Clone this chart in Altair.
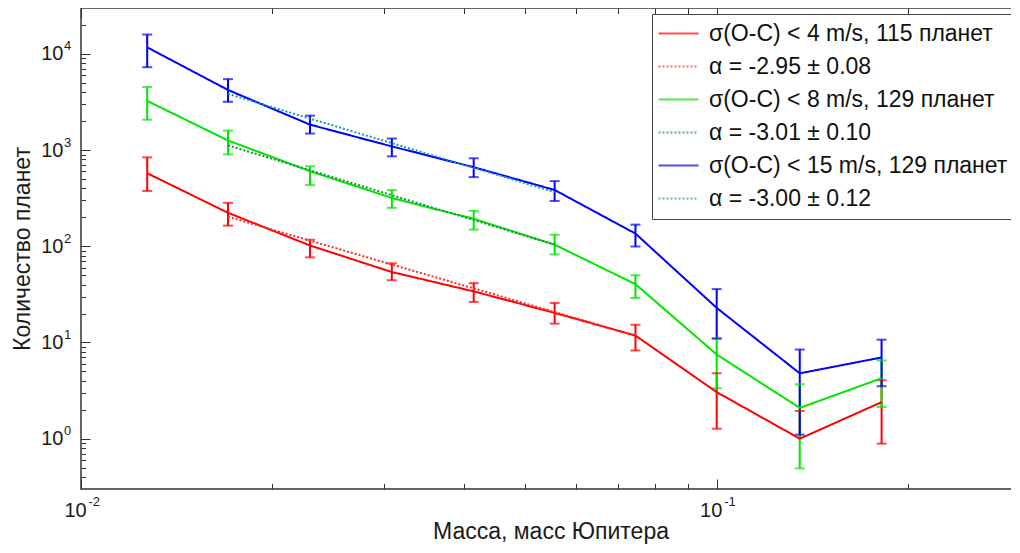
import altair as alt
import pandas as pd

# ---------------- data ----------------
mass = [0.01271, 0.01703, 0.02292, 0.03083, 0.04147, 0.05560, 0.07451, 0.1000, 0.1351, 0.1817]

red_n = [575, 223, 102, 54, 34, 20.3, 11.8, 3.05, 1.0, 2.4]
red_hi = [841, 283, 117, 66.5, 41.4, 25.8, 15.3, 4.79, 1.94, 4.05]
red_lo = [376, 164, 76.7, 44.4, 26.4, 15.7, 8.26, 1.27, None, 0.888]

green_n = [3250, 1259, 604, 318, 193, 104, 40.4, 7.5, 2.09, 4.25]
green_hi = [4530, 1596, 679, 384, 234, 132, 50.0, 11.0, 3.68, 6.51]
green_lo = [2070, 903, 433, 251, 149, 82.4, 29.0, 3.35, 0.491, 2.14]

blue_n = [11700, 4220, 1840, 1092, 664, 385, 135.5, 22.9, 4.78, 6.99]
blue_hi = [15900, 5470, 2280, 1320, 822, 476, 168, 35.9, 8.45, 10.7]
blue_lo = [7280, 3175, 1486, 861, 524, 296, 99.5, 11.0, 1.10, 3.51]

fit_red_x = [0.01703, 0.07451]
fit_red_y = [203, 11.8]
fit_green_x = [0.01703, 0.0556]
fit_green_y = [1120, 104]
fit_blue_x = [0.01703, 0.0556]
fit_blue_y = [3840, 366]

labels = [
    "σ(O-C) < 4 m/s, 115 планет",
    "α = -2.95 ± 0.08",
    "σ(O-C) < 8 m/s, 129 планет",
    "α = -3.01 ± 0.10",
    "σ(O-C) < 15 m/s, 129 планет",
    "α = -3.00 ± 0.12",
]

x_major = [0.01, 0.1]
x_minor = [0.02, 0.03, 0.04, 0.05, 0.06, 0.07, 0.08, 0.09, 0.2]
y_major = [1, 10, 100, 1000, 10000]
y_minor = [0.4, 0.5, 0.6, 0.7, 0.8, 0.9,
           2, 3, 4, 5, 6, 7, 8, 9,
           20, 30, 40, 50, 60, 70, 80, 90,
           200, 300, 400, 500, 600, 700, 800, 900,
           2000, 3000, 4000, 5000, 6000, 7000, 8000, 9000,
           20000]

x_title = "Масса, масс Юпитера"
y_title = "Количество планет"

# ---------------- styles ----------------
colors = ["#ff0000", "#ff2a2a", "#00e600", "#1f8f3f", "#0000ff", "#1a9aaa"]
dashes = [[1, 0], [2, 2], [1, 0], [2, 2], [1, 0], [2, 2]]
FONT = "Liberation Sans"
AX = "#333333"

# ---------------- tables ----------------
solid = [(labels[0], red_n, red_lo, red_hi),
         (labels[2], green_n, green_lo, green_hi),
         (labels[4], blue_n, blue_lo, blue_hi)]
fits = [(labels[1], fit_red_x, fit_red_y),
        (labels[3], fit_green_x, fit_green_y),
        (labels[5], fit_blue_x, fit_blue_y)]

line_rows, err_rows, cap_rows = [], [], []
for lab, ns, los, his in solid:
    for m, v, lo, hi in zip(mass, ns, los, his):
        line_rows.append({"label": lab, "mass": m, "n": v})
        err_rows.append({"label": lab, "mass": m, "lo": lo if lo is not None else v, "hi": hi})
        cap_rows.append({"label": lab, "mass": m, "y": hi})
        if lo is not None:
            cap_rows.append({"label": lab, "mass": m, "y": lo})
for lab, xs_, ys_ in fits:
    for m, v in zip(xs_, ys_):
        line_rows.append({"label": lab, "mass": m, "n": v})

lines_df = pd.DataFrame(line_rows)
err_df = pd.DataFrame(err_rows)
cap_df = pd.DataFrame(cap_rows)

xs = alt.Scale(type="log", domain=[0.01, 0.3], nice=False)
ys = alt.Scale(type="log", domain=[0.3, 30000], nice=False)
color_scale = alt.Scale(domain=labels, range=colors)
dash_scale = alt.Scale(domain=labels, range=dashes)


def tick_axis(orient, values, size):
    return alt.Axis(orient=orient, values=values, labels=False, ticks=True,
                    tickSize=size, offset=-size, domain=False, grid=False,
                    title=None, tickColor=AX, tickWidth=1)


exp_expr = "'' + round(log(datum.value) / LN10)"

x_ten = alt.Axis(orient="bottom", values=x_major, labelExpr="'10'", ticks=False,
                 domain=False, grid=False, labelFont=FONT, labelFontSize=20,
                 labelColor="#1a1a1a", labelPadding=21, labelBaseline="middle",
                 labelAlign="center", labelOffset=-6, labelFlush=False, labelOverlap=False,
                 title=x_title, titleFont=FONT, titleFontSize=23, titleFontWeight="normal",
                 titleColor="#1a1a1a", titlePadding=0)
x_exp = alt.Axis(orient="bottom", values=x_major, labelExpr=exp_expr, ticks=False,
                 domain=False, grid=False, labelFont=FONT, labelFontSize=13,
                 labelColor="#1a1a1a", labelPadding=12, labelBaseline="middle",
                 labelAlign="left", labelOffset=7, labelFlush=False, labelOverlap=False,
                 title=None)
y_ten = alt.Axis(orient="left", values=y_major, labelExpr="'10'", ticks=False,
                 domain=False, grid=False, labelFont=FONT, labelFontSize=20,
                 labelColor="#1a1a1a", labelPadding=18, labelBaseline="middle",
                 labelAlign="right", labelFlush=False, labelOverlap=False,
                 title=y_title, titleFont=FONT, titleFontSize=23, titleFontWeight="normal",
                 titleColor="#1a1a1a", titlePadding=6)
y_exp = alt.Axis(orient="left", values=y_major, labelExpr=exp_expr, ticks=False,
                 domain=False, grid=False, labelFont=FONT, labelFontSize=13,
                 labelColor="#1a1a1a", labelPadding=17.5, labelBaseline="middle",
                 labelAlign="left", labelOffset=-8, labelFlush=False, labelOverlap=False,
                 title=None)

legend = alt.Legend(
    title=None, orient="none", legendX=571, legendY=6, direction="vertical",
    symbolType="M-4,0H4", symbolSize=100, symbolStrokeWidth=2, symbolOffset=7,
    labelOffset=19, labelFont=FONT, labelFontSize=23, labelColor="#111111",
    labelLimit=500, padding=8, rowPadding=9, fillColor="white",
    strokeColor="#444444", cornerRadius=0,
)

rules = alt.Chart(err_df).mark_rule(strokeWidth=2).encode(
    x=alt.X("mass:Q", scale=xs, axis=x_ten),
    y=alt.Y("lo:Q", scale=ys, axis=y_ten),
    y2="hi:Q",
    color=alt.Color("label:N", scale=color_scale, legend=legend),
)

caps = alt.Chart(cap_df).mark_tick(orient="horizontal", size=10, thickness=2).encode(
    x=alt.X("mass:Q", scale=xs, axis=x_exp),
    y=alt.Y("y:Q", scale=ys, axis=y_exp),
    color=alt.Color("label:N", scale=color_scale, legend=legend),
)

lines = alt.Chart(lines_df).mark_line(strokeWidth=2).encode(
    x=alt.X("mass:Q", scale=xs, axis=tick_axis("bottom", x_major, 10)),
    y=alt.Y("n:Q", scale=ys, axis=tick_axis("left", y_major, 9)),
    color=alt.Color("label:N", scale=color_scale, legend=legend),
    strokeDash=alt.StrokeDash("label:N", scale=dash_scale, legend=legend),
)

dummy1 = alt.Chart(lines_df).mark_point(opacity=0).encode(
    x=alt.X("mass:Q", scale=xs, axis=tick_axis("bottom", x_minor, 5.5)),
    y=alt.Y("n:Q", scale=ys, axis=tick_axis("left", y_minor, 4.5)),
)
dummy2 = alt.Chart(lines_df).mark_point(opacity=0).encode(
    x=alt.X("mass:Q", scale=xs, axis=tick_axis("top", x_major, 10)),
    y=alt.Y("n:Q", scale=ys, axis=tick_axis("right", y_major, 9)),
)
dummy3 = alt.Chart(lines_df).mark_point(opacity=0).encode(
    x=alt.X("mass:Q", scale=xs, axis=tick_axis("top", x_minor, 5.5)),
    y=alt.Y("n:Q", scale=ys, axis=tick_axis("right", y_minor, 4.5)),
)

chart = alt.layer(dummy1, dummy2, dummy3, rules, caps, lines).resolve_axis(
    x="independent", y="independent"
).properties(
    width=939, height=481,
    autosize=alt.AutoSizeParams(type="none"),
    padding={"left": 73, "top": 0, "right": -9, "bottom": 56},
    background="white",
).configure_view(stroke=AX, strokeWidth=1.5)

chart.save("out.html", embed_options={"renderer": "svg", "actions": False})
